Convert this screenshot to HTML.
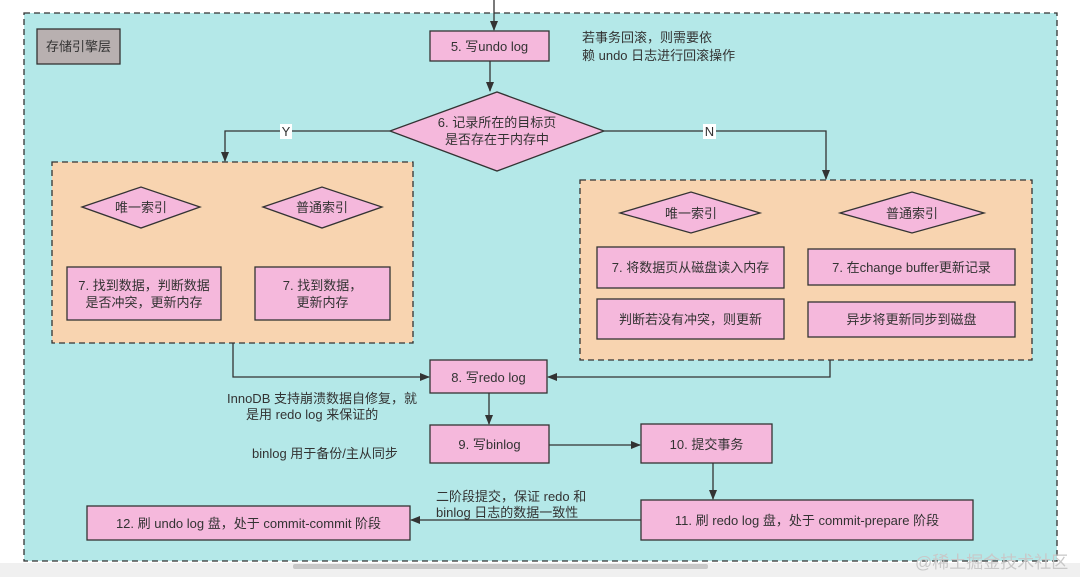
<!DOCTYPE html>
<html><head><meta charset="utf-8"><style>
html,body{margin:0;padding:0;background:#fff;}
svg{display:block;}
text{font-family:"Liberation Sans","Noto Sans CJK SC",sans-serif;font-size:13px;fill:#333;}
</style></head><body>
<svg width="1080" height="577" viewBox="0 0 1080 577" xmlns="http://www.w3.org/2000/svg">
<defs><marker id="a" markerWidth="10" markerHeight="10" refX="9" refY="5" orient="auto" markerUnits="userSpaceOnUse"><path d="M0,1 L10,5 L0,9 Z" fill="#333"/></marker></defs>
<rect x="0" y="563" width="1080" height="14" fill="#f0f0f0"/>
<rect x="293" y="564" width="415" height="5" rx="2" fill="#c8c8c8"/>
<rect x="24" y="13" width="1033" height="548" fill="#b4e8e8" stroke="#333" stroke-width="1.3" stroke-dasharray="6,4"/>
<rect x="37" y="29" width="83" height="35" fill="#b8b0b0" stroke="#333" stroke-width="1.3"/>
<text x="78.5" y="51" text-anchor="middle">存储引擎层</text>
<g stroke="#333" stroke-width="1.3" fill="none">
<line x1="494" y1="0" x2="494" y2="30" marker-end="url(#a)"/>
<line x1="490" y1="61" x2="490" y2="91" marker-end="url(#a)"/>
<polyline points="390,131 225,131 225,161" marker-end="url(#a)"/>
<polyline points="604,131 826,131 826,179" marker-end="url(#a)"/>
<polyline points="233,343 233,377 429,377" marker-end="url(#a)"/>
<polyline points="830,360 830,377 548,377" marker-end="url(#a)"/>
<line x1="489" y1="393" x2="489" y2="424" marker-end="url(#a)"/>
<line x1="549" y1="445" x2="640" y2="445" marker-end="url(#a)"/>
<line x1="713" y1="463" x2="713" y2="499" marker-end="url(#a)"/>
<line x1="641" y1="520" x2="411" y2="520" marker-end="url(#a)"/>
</g>
<g fill="#f5b8dc" stroke="#333" stroke-width="1.3">
<rect x="430" y="31" width="119" height="30"/>
<polygon points="390,131 497,92 604,131 497,171"/>
</g>
<text x="489.5" y="51" text-anchor="middle">5. 写undo log</text>
<text x="497" y="127" text-anchor="middle">6. 记录所在的目标页</text>
<text x="497" y="144" text-anchor="middle">是否存在于内存中</text>
<rect x="280" y="124" width="12" height="15" fill="#fff"/><text x="286" y="136" text-anchor="middle">Y</text>
<rect x="703" y="124" width="13" height="15" fill="#fff"/><text x="709.5" y="136" text-anchor="middle">N</text>
<text x="582" y="42">若事务回滚，则需要依</text>
<text x="582" y="60">赖 undo 日志进行回滚操作</text>
<g stroke="#333" stroke-width="1.3" stroke-dasharray="6,4" fill="#f8d4b0">
<rect x="52" y="162" width="361" height="181"/>
<rect x="580" y="180" width="452" height="180"/>
</g>
<g fill="#f5b8dc" stroke="#333" stroke-width="1.3">
<polygon points="82,207 141,187 200,207 141,228"/>
<polygon points="263,207 322,187 382,207 322,228"/>
<rect x="67" y="267" width="154" height="53"/>
<rect x="255" y="267" width="135" height="53"/>
<polygon points="620,213 691,192 760,213 691,233"/>
<polygon points="840,213 912,192 984,213 912,233"/>
<rect x="597" y="247" width="187" height="41"/>
<rect x="808" y="249" width="207" height="36"/>
<rect x="597" y="299" width="187" height="40"/>
<rect x="808" y="302" width="207" height="35"/>
<rect x="430" y="360" width="117" height="33"/>
<rect x="430" y="425" width="119" height="38"/>
<rect x="641" y="424" width="131" height="39"/>
<rect x="641" y="500" width="332" height="40"/>
<rect x="87" y="506" width="323" height="34"/>
</g>
<text x="141" y="212" text-anchor="middle">唯一索引</text>
<text x="322" y="212" text-anchor="middle">普通索引</text>
<text x="144" y="290" text-anchor="middle">7. 找到数据，判断数据</text>
<text x="144" y="307" text-anchor="middle">是否冲突，更新内存</text>
<text x="322.5" y="290" text-anchor="middle">7. 找到数据，</text>
<text x="322.5" y="307" text-anchor="middle">更新内存</text>
<text x="691" y="218" text-anchor="middle">唯一索引</text>
<text x="912" y="218" text-anchor="middle">普通索引</text>
<text x="690.5" y="272" text-anchor="middle">7. 将数据页从磁盘读入内存</text>
<text x="911.5" y="272" text-anchor="middle">7. 在change buffer更新记录</text>
<text x="690.5" y="324" text-anchor="middle">判断若没有冲突，则更新</text>
<text x="911.5" y="324" text-anchor="middle">异步将更新同步到磁盘</text>
<text x="488.5" y="382" text-anchor="middle">8. 写redo log</text>
<text x="227" y="403">InnoDB 支持崩溃数据自修复，就</text>
<text x="246" y="419">是用 redo log 来保证的</text>
<text x="489.5" y="449" text-anchor="middle">9. 写binlog</text>
<text x="252" y="458">binlog 用于备份/主从同步</text>
<text x="706.5" y="449" text-anchor="middle">10. 提交事务</text>
<text x="436" y="501">二阶段提交，保证 redo 和</text>
<text x="436" y="517">binlog 日志的数据一致性</text>
<text x="807" y="525" text-anchor="middle">11. 刷 redo log 盘，处于 commit-prepare 阶段</text>
<text x="248.5" y="528" text-anchor="middle">12. 刷 undo log 盘，处于 commit-commit 阶段</text>
<text x="915" y="568" style="font-size:17px;fill:#c8c8c8">@稀土掘金技术社区</text>
</svg>
</body></html>
